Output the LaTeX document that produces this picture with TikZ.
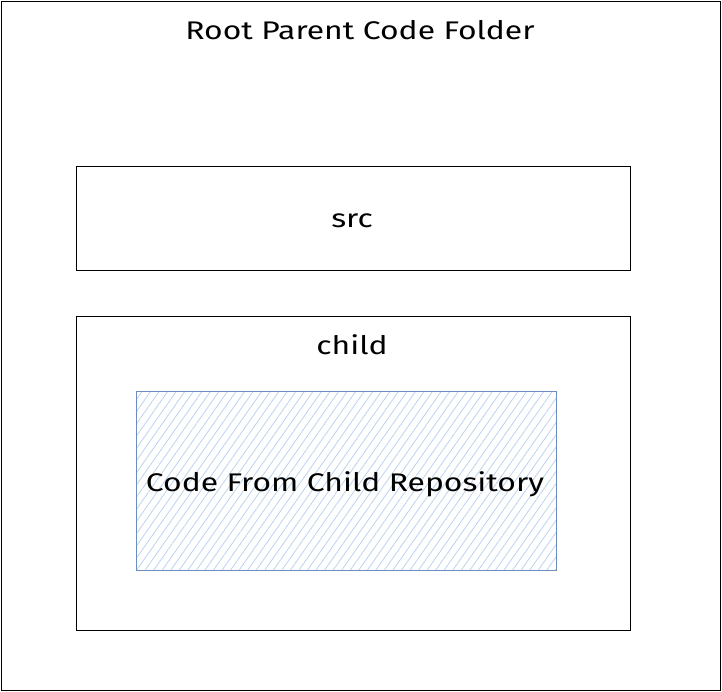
\documentclass[tikz,border=0pt]{standalone}
\usepackage{fontspec}
\setmainfont{Fira Sans}[FakeStretch=1.25]
\usetikzlibrary{patterns.meta}
\definecolor{bluefill}{HTML}{DAE8FC}
\definecolor{bluestroke}{HTML}{6C8EBF}
\definecolor{hatch}{HTML}{BCD3F0}
\tikzset{
  box/.style={draw=black, line width=0.9pt},
  lbl/.style={font=\fontsize{25.5}{30}\selectfont, text=black, inner sep=0pt},
}
\begin{document}
\begin{tikzpicture}[x=1pt,y=-1pt]
\useasboundingbox (0,0) rectangle (722,692);
\fill[white] (0,0) rectangle (722,692);
% outer
\draw[box] (1,1) rectangle (720,690);
\node[lbl] (title) at (360,30) {Root Parent Code Folder};
% src
\draw[box] (76,166) rectangle (630,270);
\node[lbl] (src) at (352,221) {src};
% child
\draw[box] (76,316) rectangle (630,630);
\node[lbl] (child) at (352,345) {child};
% inner
\fill[white] (136,391) rectangle (556,570);
\path[pattern={Lines[angle=55,distance=7pt,line width=0.8pt]}, pattern color=hatch] (136,391) rectangle (556,570);
\draw[draw=bluestroke, line width=1pt] (136,391) rectangle (556,570);
\node[lbl] (code) at (345,484) {Code From Child Repository};
\end{tikzpicture}
\end{document}
